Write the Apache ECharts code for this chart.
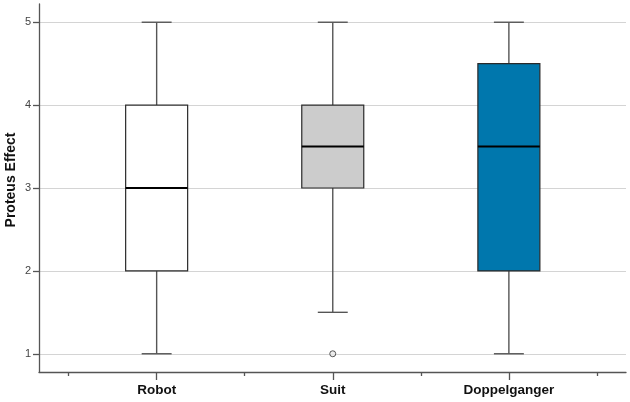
<!DOCTYPE html>
<html><head><meta charset="utf-8">
<script src="https://cdn.jsdelivr.net/npm/echarts@6/dist/echarts.min.js"></script>
<style>html,body{margin:0;padding:0;background:#fff}#c{width:630px;height:402px}</style>
</head><body><div id="c"></div>
<script>
var categories = ['Robot', 'Suit', 'Doppelganger'];
var whiskerLow = [1, 1.5, 1];
var q1 = [2, 3, 2];
var medians = [3, 3.5, 3.5];
var q3 = [4, 4, 4.5];
var whiskerHigh = [5, 5, 5];
var outliers = [[1, 1]]; // [category index, value]
var fills = ['#ffffff', '#cccccc', '#0077ad'];
var yTicks = [1, 2, 3, 4, 5];
var xMajor = [0, 1, 2];
var xMinor = [-0.5, 0.5, 1.5, 2.5];
var yTitle = 'Proteus Effect';

var boxData = categories.map(function (c, i) {
  return [i, whiskerLow[i], q1[i], medians[i], q3[i], whiskerHigh[i]];
});

var chart = echarts.init(document.getElementById('c'));
var BOXW = 0.352, CAPW = 0.17;
var FONT = 'Liberation Sans, Arial, sans-serif';
chart.setOption({
  animation: false,
  grid: {left: 39, right: 4, top: 4, height: 368, outerBoundsMode: 'none', containLabel: false},
  graphic: [{
    type: 'text', rotation: Math.PI / 2,
    x: 11.5, y: 180,
    style: {text: yTitle, fontSize: 14, fontWeight: 'bold', fill: '#111', fontFamily: FONT,
      align: 'center', verticalAlign: 'middle'}
  }],
  xAxis: [{
    type: 'value', min: -0.668, max: 2.665, position: 'bottom',
    axisLine: {show: true, onZero: false, lineStyle: {color: '#555', width: 1.3}},
    axisTick: {show: true, customValues: xMajor, length: 8, lineStyle: {color: '#555', width: 1.3}},
    axisLabel: {show: true, customValues: xMajor, margin: 11, color: '#111', fontWeight: 'bold', fontSize: 13.5,
      fontFamily: FONT,
      formatter: function (v) { return categories[Math.round(v)] || ''; }},
    splitLine: {show: false}
  }, {
    type: 'value', min: -0.668, max: 2.665, position: 'bottom',
    axisLine: {show: false, onZero: false},
    axisTick: {show: true, customValues: xMinor, length: 4, lineStyle: {color: '#555', width: 1.3}},
    axisLabel: {show: false},
    splitLine: {show: false}
  }],
  yAxis: {
    type: 'value', min: 0.78, max: 5.22, position: 'left',
    axisLine: {show: true, onZero: false, lineStyle: {color: '#555', width: 1.3}},
    axisTick: {show: true, customValues: yTicks, length: 6, lineStyle: {color: '#555', width: 1.3}},
    axisLabel: {show: true, customValues: yTicks, margin: 8, color: '#444', fontSize: 11, fontFamily: FONT},
    splitLine: {show: true, lineStyle: {color: '#d4d4d4', width: 1.2}}
  },
  series: [{
    type: 'custom',
    xAxisIndex: 0,
    data: boxData,
    renderItem: function (params, api) {
      var i = api.value(0);
      var pm = api.coord([i, api.value(3)]);
      var p1 = api.coord([i, api.value(2)]);
      var p3 = api.coord([i, api.value(4)]);
      var pl = api.coord([i, api.value(1)]);
      var ph = api.coord([i, api.value(5)]);
      var xl = api.coord([i - BOXW / 2, 1])[0];
      var xr = api.coord([i + BOXW / 2, 1])[0];
      var cl = api.coord([i - CAPW / 2, 1])[0];
      var cr = api.coord([i + CAPW / 2, 1])[0];
      var wStyle = {stroke: '#555', lineWidth: 1.4};
      return {
        type: 'group',
        children: [
          {type: 'line', shape: {x1: pl[0], y1: pl[1], x2: pl[0], y2: p1[1]}, style: wStyle},
          {type: 'line', shape: {x1: ph[0], y1: ph[1], x2: ph[0], y2: p3[1]}, style: wStyle},
          {type: 'line', shape: {x1: cl, y1: pl[1], x2: cr, y2: pl[1]}, style: wStyle},
          {type: 'line', shape: {x1: cl, y1: ph[1], x2: cr, y2: ph[1]}, style: wStyle},
          {type: 'rect', shape: {x: xl, y: p3[1], width: xr - xl, height: p1[1] - p3[1]},
            style: {fill: fills[i], stroke: '#2a2a2a', lineWidth: 1.2}},
          {type: 'line', shape: {x1: xl, y1: pm[1], x2: xr, y2: pm[1]}, style: {stroke: '#000', lineWidth: 2}}
        ]
      };
    }
  }, {
    type: 'scatter',
    xAxisIndex: 0,
    data: outliers,
    symbol: 'circle', symbolSize: 6,
    itemStyle: {color: '#e8e8e8', borderColor: '#333', borderWidth: 1}
  }]
});
</script>
</body></html>
